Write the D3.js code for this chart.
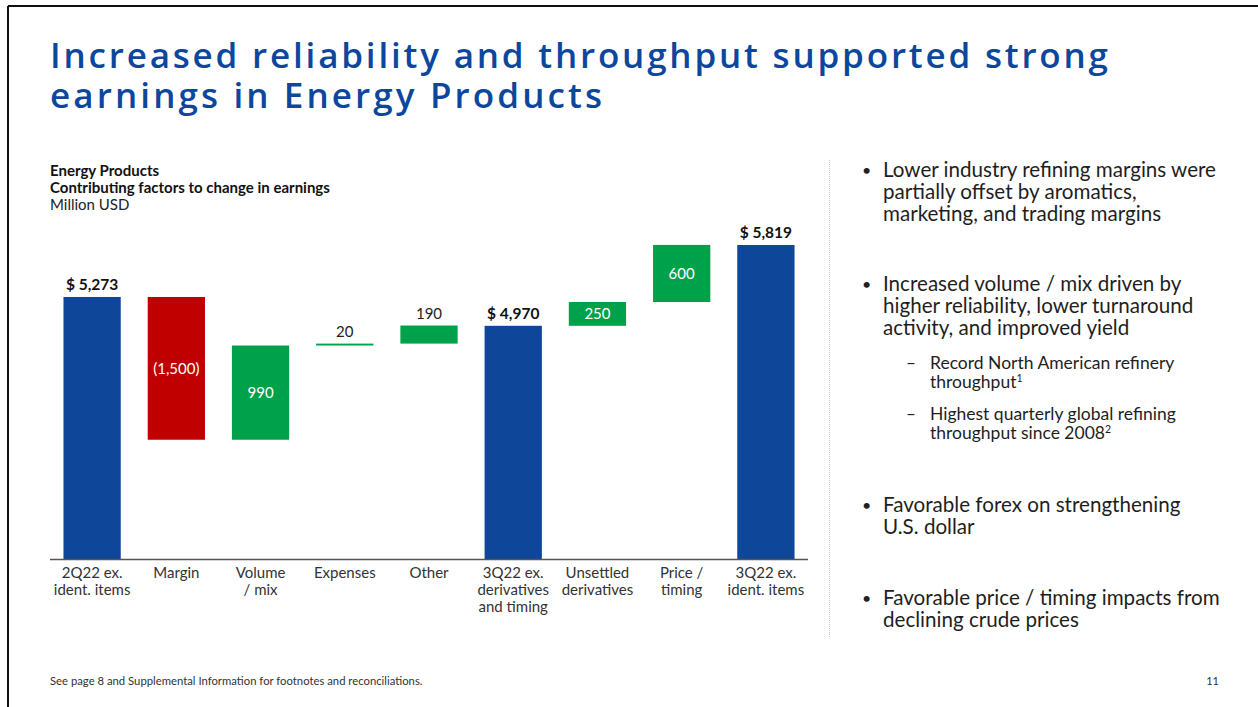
<!DOCTYPE html>
<html lang="en">
<head>
<meta charset="utf-8">
<title>Energy Products waterfall</title>
<script src="https://cdnjs.cloudflare.com/ajax/libs/d3/7.8.5/d3.min.js"></script>
<style>
  html, body { margin: 0; padding: 0; background: #fff; }
  svg { display: block; }
  text { font-family: Lato, "Noto Sans", sans-serif; }
</style>
</head>
<body>
<script>
// chart data (million USD)
var categories = ["2Q22 ex.\nident. items", "Margin", "Volume\n/ mix", "Expenses", "Other",
                  "3Q22 ex.\nderivatives\nand timing", "Unsettled\nderivatives", "Price /\ntiming", "3Q22 ex.\nident. items"];
var values = [5273, -1500, 990, 20, 190, 4970, 250, 600, 5819];
var kinds  = ["total", "delta", "delta", "delta", "delta", "total", "delta", "delta", "total"];

// side notes
var bullets = [
  {lines: ["Lower industry refining margins were", "partially offset by aromatics,", "marketing, and trading margins"], y: 177},
  {lines: ["Increased volume / mix driven by", "higher reliability, lower turnaround", "activity, and improved yield"], y: 291},
  {lines: ["Favorable forex on strengthening", "U.S. dollar"], y: 512},
  {lines: ["Favorable price / timing impacts from", "declining crude prices"], y: 605}
];
var subBullets = [
  {lines: ["Record North American refinery", "throughput"], sup: "1", y: 369},
  {lines: ["Highest quarterly global refining", "throughput since 2008"], sup: "2", y: 420}
];

var W = 1258, H = 707;
var blue = "#0e4699", red = "#c00000", green = "#00a14b";

var svg = d3.select("body").append("svg")
    .attr("width", W)
    .attr("height", H);

// slide frame (top + left edges only)
svg.append("line").attr("x1", 8).attr("x2", W).attr("y1", 6).attr("y2", 6)
    .attr("stroke", "#111").attr("stroke-width", 2);
svg.append("line").attr("x1", 8).attr("x2", 8).attr("y1", 6).attr("y2", H)
    .attr("stroke", "#111").attr("stroke-width", 2);

// title (one text block, two lines)
var titleLines = [
  {t: "Increased reliability and throughput supported strong", y: 68, len: 1058},
  {t: "earnings in Energy Products", y: 108, len: 552}
];
var title = svg.append("text")
    .style("font-family", "'Open Sans', sans-serif")
    .style("font-weight", 600)
    .style("font-size", "35px")
    .attr("fill", "#0c479d");
title.selectAll("tspan").data(titleLines).enter().append("tspan")
    .attr("x", 50).attr("y", function(d) { return d.y; })
    .attr("textLength", function(d) { return d.len; })
    .attr("lengthAdjust", "spacing")
    .text(function(d) { return d.t; });

// chart header
svg.append("text").attr("x", 50).attr("y", 176).style("font-size", "15px").style("font-weight", 700)
    .attr("fill", "#111").text("Energy Products");
svg.append("text").attr("x", 50).attr("y", 193).style("font-size", "15px").style("font-weight", 700)
    .attr("fill", "#111").text("Contributing factors to change in earnings");
svg.append("text").attr("x", 50).attr("y", 210).style("font-size", "15px")
    .attr("fill", "#222").text("Million USD");

// waterfall steps
var running = 0;
var steps = values.map(function(v, i) {
  var s;
  if (kinds[i] === "total") {
    s = {start: null, end: v};
    running = v;
  } else {
    s = {start: running, end: running + v};
    running += v;
  }
  return {cat: categories[i], value: v, kind: kinds[i], start: s.start, end: s.end};
});

var baseY = 559;
var x = d3.scaleBand()
    .domain(categories)
    .range([50, 808])
    .paddingInner(0.32)
    .paddingOuter(0.16);

// truncated value axis, as in the original slide
var y = d3.scaleLinear()
    .domain([2520, 5819])
    .range([baseY, 245]);

var g = svg.append("g");

g.selectAll(".bar").data(steps).enter().append("rect")
    .attr("class", "bar")
    .attr("x", function(d) { return x(d.cat); })
    .attr("width", x.bandwidth())
    .attr("y", function(d) {
      return d.kind === "total" ? y(d.end) : y(Math.max(d.start, d.end));
    })
    .attr("height", function(d) {
      var h = d.kind === "total" ? baseY - y(d.end) : Math.abs(y(d.start) - y(d.end));
      return Math.max(h, 1.5);
    })
    .attr("fill", function(d) {
      return d.kind === "total" ? blue : (d.value < 0 ? red : green);
    });

// baseline axis
g.append("line").attr("x1", 50).attr("x2", 808).attr("y1", baseY + 0.5).attr("y2", baseY + 0.5)
    .attr("stroke", "#555").attr("stroke-width", 1.5);

var fmt = d3.format(",");

g.selectAll(".val").data(steps).enter().append("text")
    .attr("class", "val")
    .attr("text-anchor", "middle")
    .attr("x", function(d) { return x(d.cat) + x.bandwidth() / 2; })
    .attr("y", function(d) {
      if (d.kind === "total") return y(d.end) - 7;
      var top = y(Math.max(d.start, d.end)), bot = y(Math.min(d.start, d.end));
      if (bot - top >= 22) return (top + bot) / 2 + 5.5;
      return top - 7;
    })
    .style("font-size", function(d) { return d.kind === "total" ? "15.5px" : "15px"; })
    .style("font-weight", function(d) { return d.kind === "total" ? 700 : 400; })
    .attr("fill", function(d) {
      if (d.kind === "total") return "#111";
      var h = Math.abs(y(d.start) - y(d.end));
      return h >= 22 ? "#fff" : "#222";
    })
    .text(function(d) {
      if (d.kind === "total") return "$ " + fmt(d.end);
      return d.value < 0 ? "(" + fmt(-d.value) + ")" : fmt(d.value);
    });

// category labels
var cl = g.selectAll(".cat").data(steps).enter().append("text")
    .attr("class", "cat")
    .attr("text-anchor", "middle")
    .style("font-size", "15px")
    .attr("fill", "#333");
cl.each(function(d) {
  var t = d3.select(this);
  d.cat.split("\n").forEach(function(line, i) {
    t.append("tspan")
      .attr("x", x(d.cat) + x.bandwidth() / 2)
      .attr("y", 578 + i * 17)
      .text(line);
  });
});

// dotted divider
svg.append("line").attr("x1", 829.5).attr("x2", 829.5).attr("y1", 160).attr("y2", 637)
    .attr("stroke", "#c8c8c8").attr("stroke-width", 1).attr("stroke-dasharray", "1,1");

// bullets on the right
bullets.forEach(function(b) {
  svg.append("text").attr("x", 862).attr("y", b.y - 1).style("font-size", "16px").attr("fill", "#222").text("•");
  b.lines.forEach(function(line, i) {
    svg.append("text").attr("x", 883).attr("y", b.y + i * 22)
      .style("font-size", "20.6px").attr("fill", "#1e1e1e").text(line);
  });
});
subBullets.forEach(function(b) {
  svg.append("text").attr("x", 906).attr("y", b.y).style("font-size", "17px").attr("fill", "#222").text("–");
  b.lines.forEach(function(line, i) {
    var t = svg.append("text").attr("x", 930).attr("y", b.y + i * 19)
      .style("font-size", "17.5px").attr("fill", "#1e1e1e").text(line);
    if (i === b.lines.length - 1) {
      t.append("tspan").attr("dy", -6).style("font-size", "10.5px").text(b.sup);
    }
  });
});

// footer
svg.append("text").attr("x", 50).attr("y", 685).style("font-size", "11.3px").attr("fill", "#333")
    .text("See page 8 and Supplemental Information for footnotes and reconciliations.");
svg.append("text").attr("x", 1219).attr("y", 685).attr("text-anchor", "end").style("font-size", "11px")
    .attr("fill", "#333").text("11");
</script>
</body>
</html>
